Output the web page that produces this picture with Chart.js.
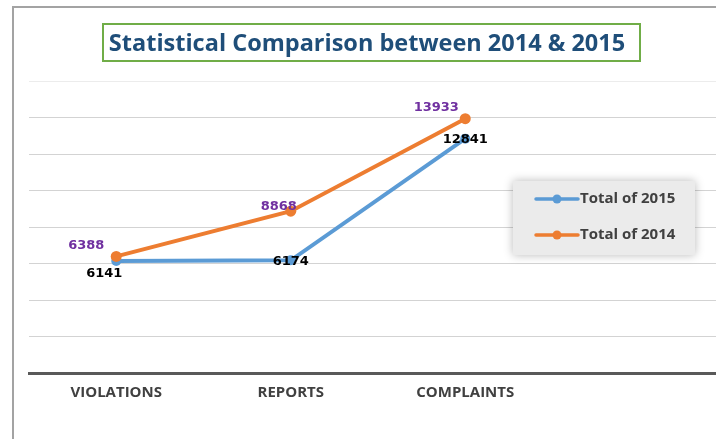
<!DOCTYPE html>
<html>
<head>
<meta charset="utf-8">
<script src="https://cdn.jsdelivr.net/npm/chart.js@4.4.1/dist/chart.umd.min.js"></script>
<style>
  html, body { margin: 0; padding: 0; background: #fff; }
  #wrap { position: relative; width: 716px; height: 439px; overflow: hidden; }
  #c { position: absolute; left: 0; top: 0; }
</style>
</head>
<body>
<div id="wrap"><canvas id="c" width="760" height="439"></canvas></div>
<script>
const chartTitle = 'Statistical Comparison between 2014 & 2015';
const categories = ['VIOLATIONS', 'REPORTS', 'COMPLAINTS'];
const seriesNames = ['Total of 2015', 'Total of 2014'];
const totals2015 = [6141, 6174, 12841];
const totals2014 = [6388, 8868, 13933];
const yMax = 16000;
const yStep = 2000;

const toPoints = arr => arr.map((v, i) => ({ x: i, y: v }));

const framePlugin = {
  id: 'frame',
  beforeDraw(chart) {
    const ctx = chart.ctx;
    ctx.save();
    ctx.fillStyle = '#ffffff';
    ctx.fillRect(0, 0, chart.width, chart.height);
    ctx.strokeStyle = '#a3a3a3';
    ctx.lineWidth = 2;
    ctx.beginPath();
    ctx.moveTo(13, chart.height);
    ctx.lineTo(13, 7);
    ctx.lineTo(chart.width, 7);
    ctx.stroke();
    ctx.restore();
  }
};

const titlePlugin = {
  id: 'boxTitle',
  afterDraw(chart) {
    const ctx = chart.ctx;
    ctx.save();
    ctx.strokeStyle = '#70ad47';
    ctx.lineWidth = 2;
    ctx.strokeRect(103, 24, 537, 37);
    ctx.font = 'bold 23.5px "Open Sans"';
    ctx.fillStyle = '#1f4e79';
    ctx.textBaseline = 'alphabetic';
    ctx.textAlign = 'center';
    ctx.fillText(chartTitle, 367, 51);
    ctx.restore();
  }
};

const labelPlugin = {
  id: 'pointLabels',
  afterDatasetsDraw(chart, args, opts) {
    const ctx = chart.ctx;
    ctx.save();
    ctx.font = 'bold 13px "DejaVu Sans"';
    ctx.textAlign = 'center';
    ctx.textBaseline = 'middle';
    chart.data.datasets.forEach((ds, di) => {
      const meta = chart.getDatasetMeta(di);
      const offs = opts.offsets[di];
      ctx.fillStyle = opts.colors[di];
      meta.data.forEach((pt, i) => {
        const o = offs[i];
        ctx.fillText(String(ds.data[i].y), pt.x + o[0], pt.y + o[1]);
      });
    });
    ctx.restore();
  }
};

const legendPlugin = {
  id: 'boxLegend',
  afterDraw(chart) {
    const ctx = chart.ctx;
    ctx.save();
    ctx.shadowColor = 'rgba(0,0,0,0.28)';
    ctx.shadowBlur = 9;
    ctx.fillStyle = '#ebebeb';
    ctx.fillRect(513, 181, 182, 74);
    ctx.restore();
    ctx.save();
    const rows = [199, 235];
    chart.data.datasets.forEach((ds, i) => {
      const y = rows[i];
      ctx.strokeStyle = ds.borderColor;
      ctx.lineWidth = 3.5;
      ctx.lineCap = 'round';
      ctx.beginPath();
      ctx.moveTo(536, y);
      ctx.lineTo(578, y);
      ctx.stroke();
      ctx.fillStyle = ds.borderColor;
      ctx.beginPath();
      ctx.arc(557, y, 4.5, 0, Math.PI * 2);
      ctx.fill();
      ctx.fillStyle = '#404040';
      ctx.font = 'bold 15px "Open Sans"';
      ctx.textAlign = 'left';
      ctx.textBaseline = 'middle';
      ctx.fillText(ds.label, 580, y);
    });
    ctx.restore();
  }
};

new Chart(document.getElementById('c'), {
  type: 'line',
  data: {
    datasets: [
      {
        label: seriesNames[0],
        data: toPoints(totals2015),
        borderColor: '#5b9bd5',
        backgroundColor: '#5b9bd5',
        borderWidth: 4,
        pointRadius: 5,
        pointHoverRadius: 5,
        pointBorderWidth: 0,
        tension: 0,
        order: 2
      },
      {
        label: seriesNames[1],
        data: toPoints(totals2014),
        borderColor: '#ed7d31',
        backgroundColor: '#ed7d31',
        borderWidth: 4,
        pointRadius: 5.5,
        pointHoverRadius: 5.5,
        pointBorderWidth: 0,
        tension: 0,
        order: 1
      }
    ]
  },
  options: {
    responsive: false,
    animation: false,
    events: [],
    layout: { padding: { top: 81, left: 29, right: 33, bottom: 0 } },
    scales: {
      x: {
        type: 'linear',
        min: -0.5,
        max: 3.5,
        afterBuildTicks(scale) {
          scale.ticks = categories.map((c, i) => ({ value: i }));
        },
        afterFit(scale) { scale.height = 66; },
        grid: { display: false, drawTicks: false },
        border: { display: true, color: '#595959', width: 3 },
        ticks: {
          autoSkip: false,
          maxRotation: 0,
          padding: 11,
          color: '#404040',
          font: { family: '"Open Sans"', size: 15, weight: 'bold' },
          callback: v => categories[v] !== undefined ? categories[v] : ''
        }
      },
      y: {
        min: 0,
        max: yMax,
        afterFit(scale) { scale.width = 0; },
        ticks: { stepSize: yStep, display: false },
        grid: {
          drawTicks: false,
          lineWidth: 1,
          color: c => c.tick.value === 0 ? 'rgba(0,0,0,0)' : (c.tick.value === yMax ? '#ececec' : '#d3d3d3')
        },
        border: { display: false }
      }
    },
    plugins: {
      legend: { display: false },
      title: { display: false },
      tooltip: { enabled: false },
      pointLabels: {
        colors: ['#000000', '#7030a0'],
        offsets: [
          [[-12, 13], [0, 1], [0, 1]],
          [[-30, -11], [-12, -5], [-29, -11]]
        ]
      }
    }
  },
  plugins: [framePlugin, labelPlugin, legendPlugin, titlePlugin]
});
</script>
</body>
</html>
